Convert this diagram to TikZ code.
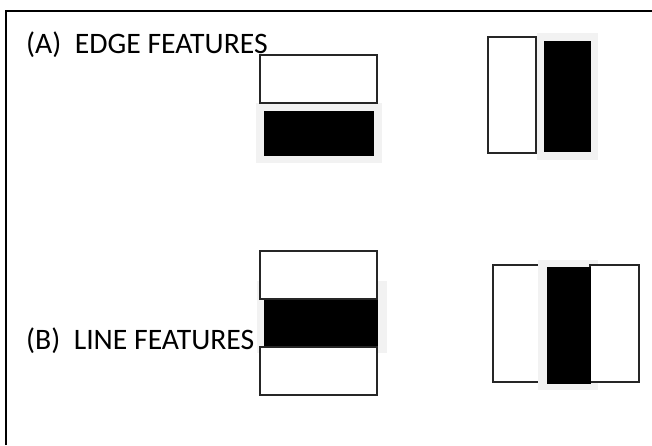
\documentclass[tikz,border=0pt]{standalone}
\usepackage{fontspec}
\setmainfont{Carlito}

\definecolor{haarshade}{HTML}{F2F2F2}

\tikzset{
  haarframe/.style={line width=1.8pt, black},
  haarwhite/.style={draw=black!85, fill=white, line width=1.3pt},
  haarblack/.style={fill=black},
  haarshade/.style={fill=haarshade},
  haarlabel/.style={anchor=base west, inner sep=0pt, font=\fontsize{29.7}{35}\selectfont}
}

\begin{document}
\begin{tikzpicture}[x=1pt, y=-1pt]
\useasboundingbox (0,0) rectangle (652,445);
\draw[haarframe] (6,445) -- (6,11) -- (652,11);

\node[haarlabel] (edgelabel) at (26,53) {(A)\ \ EDGE FEATURES};
\node[haarlabel] (linelabel) at (26,349) {(B)\ \ LINE FEATURES};

% edge feature, horizontal
\fill[haarshade] (256,103) rectangle (382,163);
\fill[haarblack] (264,111) rectangle (374,156);
\draw[haarwhite] (260,55) rectangle (377,103);

% edge feature, vertical
\draw[haarwhite] (488,37) rectangle (536,153);
\fill[haarshade] (537,33) rectangle (598,160);
\fill[haarblack] (544,41) rectangle (591,152);

% line feature, horizontal
\fill[haarshade] (257,281) rectangle (387,353);
\fill[haarblack] (264,290) rectangle (378,346);
\draw[haarwhite] (260,251) rectangle (377,299);
\draw[haarwhite] (260,347) rectangle (377,395);

% line feature, vertical
\draw[haarwhite] (493,265) rectangle (546,382);
\fill[haarshade] (538,260) rectangle (598,390);
\draw[haarwhite] (590,265) rectangle (639,382);
\fill[haarblack] (547,267) rectangle (591,384);
\end{tikzpicture}
\end{document}
